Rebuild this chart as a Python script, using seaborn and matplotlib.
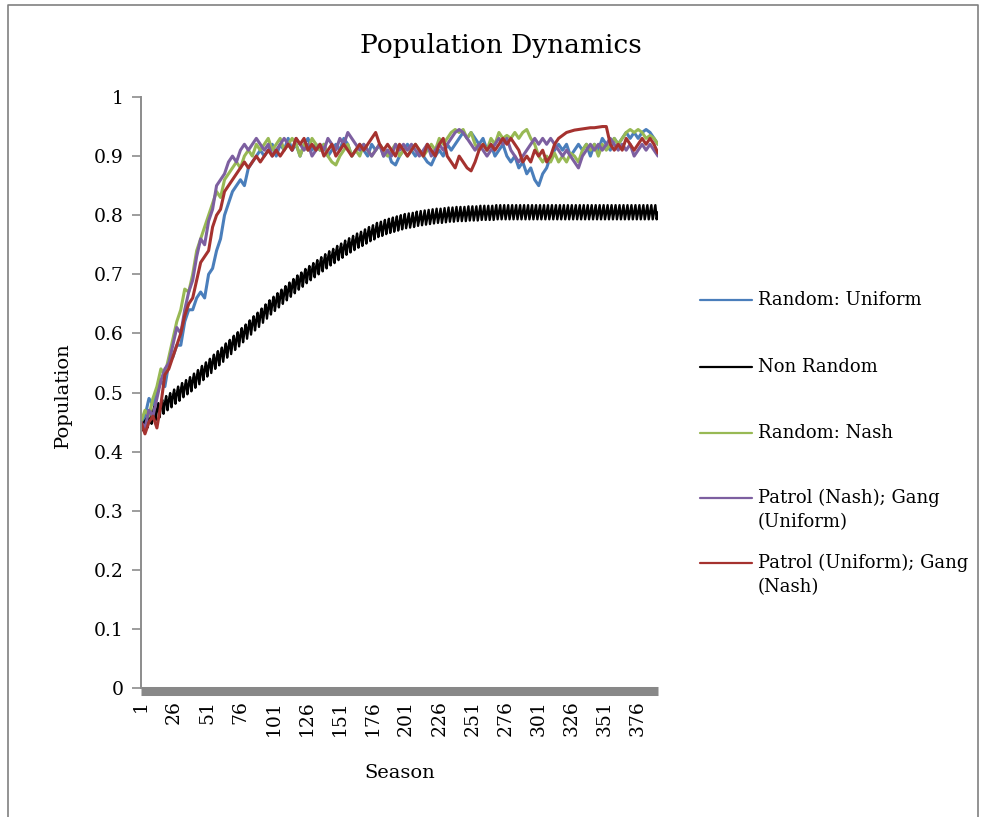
import numpy as np
import pandas as pd
import matplotlib
matplotlib.use("Agg")
import matplotlib.pyplot as plt
import seaborn as sns
from matplotlib.lines import Line2D

# ---------------- data ----------------
series_names = ["Random: Uniform", "Non Random", "Random: Nash",
                "Patrol (Nash); Gang (Uniform)", "Patrol (Uniform); Gang (Nash)"]
legend_lines = [["Random: Uniform"], ["Non Random"], ["Random: Nash"],
                ["Patrol (Nash); Gang", "(Uniform)"],
                ["Patrol (Uniform); Gang", "(Nash)"]]
colors = ["#4A7EBB", "#000000", "#98B954", "#7D5FA0", "#A5322F"]
tick_seasons = [1, 26, 51, 76, 101, 126, 151, 176, 201, 226, 251, 276, 301, 326, 351, 376]
y_ticks = [0, 0.1, 0.2, 0.3, 0.4, 0.5, 0.6, 0.7, 0.8, 0.9, 1]
y_tick_labels = ["0", "0.1", "0.2", "0.3", "0.4", "0.5", "0.6", "0.7", "0.8", "0.9", "1"]

# random series, sampled every 3rd season (1, 4, 7, ...)
random_uniform = [
    0.45, 0.46, 0.49, 0.48, 0.50, 0.52, 0.51, 0.55, 0.56, 0.58,
    0.58, 0.62, 0.64, 0.64, 0.66, 0.67, 0.66, 0.70, 0.71, 0.74,
    0.76, 0.80, 0.82, 0.84, 0.85, 0.86, 0.85, 0.88, 0.89, 0.90,
    0.91, 0.90, 0.91, 0.92, 0.90, 0.92, 0.91, 0.93, 0.91, 0.92,
    0.90, 0.92, 0.93, 0.91, 0.92, 0.91, 0.92, 0.90, 0.91, 0.92,
    0.91, 0.93, 0.92, 0.90, 0.91, 0.92, 0.91, 0.90, 0.92, 0.91,
    0.92, 0.90, 0.91, 0.89, 0.885, 0.90, 0.91, 0.92, 0.91, 0.90,
    0.91, 0.90, 0.89, 0.885, 0.90, 0.91, 0.90, 0.92, 0.91, 0.92,
    0.93, 0.94, 0.93, 0.94, 0.93, 0.92, 0.93, 0.91, 0.92, 0.90,
    0.91, 0.92, 0.90, 0.89, 0.90, 0.88, 0.89, 0.87, 0.88, 0.86,
    0.85, 0.87, 0.88, 0.90, 0.91, 0.92, 0.91, 0.92, 0.90, 0.91,
    0.92, 0.91, 0.92, 0.90, 0.92, 0.91, 0.93, 0.92, 0.91, 0.93,
    0.92, 0.93, 0.94, 0.93, 0.94, 0.93, 0.94, 0.945, 0.94, 0.93,
    0.92]
random_nash = [
    0.45, 0.47, 0.46, 0.49, 0.51, 0.54, 0.53, 0.56, 0.59, 0.62,
    0.64, 0.675, 0.67, 0.70, 0.74, 0.76, 0.78, 0.80, 0.82, 0.84,
    0.83, 0.86, 0.87, 0.88, 0.89, 0.88, 0.90, 0.91, 0.90, 0.92,
    0.91, 0.92, 0.93, 0.91, 0.92, 0.93, 0.91, 0.92, 0.93, 0.92,
    0.90, 0.92, 0.91, 0.93, 0.92, 0.91, 0.92, 0.90, 0.89, 0.885,
    0.90, 0.91, 0.92, 0.90, 0.91, 0.90, 0.92, 0.91, 0.90, 0.91,
    0.92, 0.91, 0.90, 0.91, 0.92, 0.90, 0.91, 0.90, 0.91, 0.92,
    0.91, 0.90, 0.91, 0.92, 0.91, 0.93, 0.92, 0.93, 0.94, 0.945,
    0.94, 0.945, 0.93, 0.94, 0.92, 0.91, 0.92, 0.91, 0.93, 0.92,
    0.94, 0.93, 0.935, 0.93, 0.94, 0.93, 0.94, 0.945, 0.93, 0.92,
    0.90, 0.89, 0.90, 0.89, 0.905, 0.89, 0.90, 0.89, 0.905, 0.90,
    0.89, 0.91, 0.92, 0.91, 0.92, 0.90, 0.92, 0.91, 0.92, 0.93,
    0.92, 0.93, 0.94, 0.945, 0.94, 0.945, 0.94, 0.93, 0.935, 0.93,
    0.92]
patrol_nash_gang_uniform = [
    0.45, 0.44, 0.47, 0.46, 0.49, 0.52, 0.54, 0.55, 0.58, 0.61,
    0.60, 0.64, 0.67, 0.69, 0.73, 0.76, 0.75, 0.79, 0.81, 0.85,
    0.86, 0.87, 0.89, 0.90, 0.89, 0.91, 0.92, 0.91, 0.92, 0.93,
    0.92, 0.91, 0.92, 0.90, 0.91, 0.92, 0.93, 0.92, 0.91, 0.93,
    0.92, 0.91, 0.92, 0.90, 0.91, 0.92, 0.91, 0.93, 0.92, 0.91,
    0.93, 0.92, 0.94, 0.93, 0.92, 0.91, 0.92, 0.91, 0.90, 0.91,
    0.92, 0.90, 0.91, 0.90, 0.92, 0.91, 0.92, 0.91, 0.92, 0.91,
    0.90, 0.91, 0.92, 0.90, 0.91, 0.92, 0.91, 0.92, 0.93, 0.94,
    0.945, 0.94, 0.93, 0.92, 0.91, 0.92, 0.91, 0.90, 0.91, 0.92,
    0.93, 0.92, 0.93, 0.91, 0.90, 0.89, 0.90, 0.91, 0.92, 0.93,
    0.92, 0.93, 0.92, 0.93, 0.92, 0.91, 0.90, 0.91, 0.90, 0.89,
    0.88, 0.90, 0.91, 0.92, 0.91, 0.92, 0.91, 0.92, 0.93, 0.92,
    0.91, 0.92, 0.91, 0.92, 0.90, 0.91, 0.92, 0.91, 0.92, 0.91,
    0.90]
patrol_uniform_gang_nash = [
    0.45, 0.43, 0.45, 0.46, 0.44, 0.48, 0.53, 0.54, 0.56, 0.58,
    0.60, 0.63, 0.65, 0.66, 0.69, 0.72, 0.73, 0.74, 0.78, 0.80,
    0.81, 0.84, 0.85, 0.86, 0.87, 0.88, 0.89, 0.88, 0.89, 0.90,
    0.89, 0.90, 0.91, 0.90, 0.91, 0.90, 0.91, 0.92, 0.91, 0.93,
    0.92, 0.93, 0.91, 0.92, 0.91, 0.92, 0.90, 0.91, 0.92, 0.90,
    0.91, 0.92, 0.91, 0.90, 0.91, 0.92, 0.91, 0.92, 0.93, 0.94,
    0.92, 0.91, 0.92, 0.91, 0.90, 0.92, 0.91, 0.90, 0.91, 0.92,
    0.91, 0.90, 0.92, 0.91, 0.90, 0.92, 0.93, 0.90, 0.89, 0.88,
    0.90, 0.89, 0.88, 0.875, 0.89, 0.91, 0.92, 0.91, 0.92, 0.91,
    0.92, 0.93, 0.92, 0.93, 0.92, 0.91, 0.89, 0.90, 0.89, 0.91,
    0.90, 0.91, 0.89, 0.90, 0.92, 0.93, 0.935, 0.94, 0.942, 0.944,
    0.945, 0.946, 0.947, 0.948, 0.948, 0.949, 0.95, 0.95, 0.92, 0.91,
    0.92, 0.91, 0.93, 0.92, 0.91, 0.92, 0.93, 0.92, 0.93, 0.92,
    0.905]

# deterministic series, one value per season
non_random = [
    .447, .459, .435, .453, .465, .441, .459, .471, .447, .465, .477, .453, .470, .482, .458,
    .476, .488, .464, .482, .494, .470, .487, .499, .475, .493, .505, .481, .498, .510, .486,
    .504, .516, .492, .509, .521, .497, .514, .526, .502, .520, .532, .508, .526, .538, .514,
    .533, .545, .521, .539, .551, .527, .545, .557, .533, .552, .564, .540, .558, .570, .546,
    .564, .576, .552, .571, .583, .559, .577, .589, .565, .584, .596, .572, .590, .602, .578,
    .597, .609, .585, .603, .615, .591, .610, .622, .598, .617, .629, .605, .623, .635, .611,
    .630, .642, .618, .637, .649, .625, .644, .656, .632, .650, .662, .638, .656, .668, .644,
    .662, .674, .650, .668, .680, .656, .674, .686, .662, .680, .692, .668, .686, .698, .674,
    .691, .703, .679, .697, .709, .685, .702, .714, .690, .707, .719, .695, .712, .724, .700,
    .717, .729, .705, .722, .734, .710, .727, .739, .715, .731, .743, .719, .736, .748, .724,
    .740, .752, .728, .745, .757, .733, .749, .761, .737, .753, .765, .741, .757, .769, .745,
    .760, .772, .748, .764, .776, .752, .768, .780, .756, .771, .783, .759, .775, .787, .763,
    .777, .789, .765, .780, .792, .768, .782, .794, .770, .784, .796, .772, .786, .798, .774,
    .788, .800, .776, .790, .802, .778, .791, .803, .779, .792, .804, .780, .794, .806, .782,
    .795, .807, .783, .796, .808, .784, .797, .809, .785, .798, .810, .786, .799, .811, .787,
    .799, .811, .787, .800, .812, .788, .801, .813, .789, .801, .813, .789, .802, .814, .790,
    .802, .814, .790, .802, .814, .790, .803, .815, .791, .803, .815, .791, .803, .815, .791,
    .804, .816, .792, .804, .816, .792, .804, .816, .792, .804, .816, .792, .805, .817, .793,
    .805, .817, .793, .805, .817, .793, .805, .817, .793, .805, .817, .793, .805, .817, .793,
    .805, .817, .793, .805, .817, .793, .805, .817, .793, .805, .817, .793, .805, .817, .793,
    .805, .817, .793, .805, .817, .793, .805, .817, .793, .805, .817, .793, .805, .817, .793,
    .805, .817, .793, .805, .817, .793, .805, .817, .793, .805, .817, .793, .805, .817, .793,
    .805, .817, .793, .805, .817, .793, .805, .817, .793, .805, .817, .793, .805, .817, .793,
    .805, .817, .793, .805, .817, .793, .805, .817, .793, .805, .817, .793, .805, .817, .793,
    .805, .817, .793, .805, .817, .793, .805, .817, .793, .805, .817, .793, .805, .817, .793,
    .805, .817, .793, .805, .817, .793, .805, .817, .793, .805, .817, .793, .805, .817, .793,
    .805]

# ---------------- frames ----------------
random_frames = []
for name, vals in [(series_names[0], random_uniform),
                   (series_names[2], random_nash),
                   (series_names[3], patrol_nash_gang_uniform),
                   (series_names[4], patrol_uniform_gang_nash)]:
    random_frames.append(pd.DataFrame({"Season": 1 + 3 * np.arange(len(vals)),
                                       "Population": vals, "Series": name}))
df_random = pd.concat(random_frames, ignore_index=True)
df_nonrandom = pd.DataFrame({"Season": 1 + np.arange(len(non_random)),
                             "Population": non_random})

# ---------------- plot ----------------
sns.set_theme(style="white")
plt.rcParams["font.family"] = ["DejaVu Serif", "DejaVu Sans"]
plt.rcParams["text.color"] = "black"
plt.rcParams["xtick.color"] = "black"
plt.rcParams["ytick.color"] = "black"

W, H = 981, 817
fig = plt.figure(figsize=(W / 100, H / 100), dpi=100)
ax = fig.add_axes([141 / W, 1 - 688 / H, (658 - 141) / W, (688 - 97) / H])

random_order = [series_names[i] for i in (0, 2, 3, 4)]
random_colors = [colors[i] for i in (0, 2, 3, 4)]
sns.lineplot(data=df_nonrandom, x="Season", y="Population", color=colors[1],
             linewidth=1.7, ax=ax, legend=False)
sns.lineplot(data=df_random, x="Season", y="Population", hue="Series",
             hue_order=random_order, palette=random_colors, estimator=None,
             linewidth=2.2, legend=False, ax=ax)

ax.set_xlim(1, 391)
ax.set_ylim(0, 1)
ax.set_yticks(y_ticks)
ax.set_yticklabels(y_tick_labels)
ax.set_xticks(tick_seasons)
ax.set_xticklabels([str(t) for t in tick_seasons])
ax.set_xlabel("")
ax.set_ylabel("")

for s in ["top", "right"]:
    ax.spines[s].set_visible(False)
ax.spines["left"].set_color("#8c8c8c")
ax.spines["left"].set_linewidth(1.4)
ax.spines["bottom"].set_color("#888888")
ax.spines["bottom"].set_linewidth(6.5)
ax.spines["bottom"].set_capstyle("butt")
ax.spines["bottom"].set_position(("outward", 2.5))
ax.spines["bottom"].set_zorder(0.5)

ax.tick_params(axis="y", direction="out", length=6.5, width=1.2, color="#8c8c8c",
               labelsize=13.5, pad=6, left=True, labelcolor="black")
ax.tick_params(axis="x", length=0, labelsize=13.5, pad=6, labelcolor="black",
               labelrotation=90)
for lbl in ax.get_xticklabels():
    lbl.set_rotation(90)
    lbl.set_verticalalignment("top")
    lbl.set_horizontalalignment("center")

fig.text(501 / W, 1 - 46 / H, "Population Dynamics", ha="center", va="center",
         fontsize=19, color="black")
fig.text(63 / W, 1 - 395 / H, "Population", rotation=90, ha="center", va="center",
         fontsize=14, color="black")
fig.text(400 / W, 1 - 773 / H, "Season", ha="center", va="center", fontsize=14,
         color="black")

legend_y = [300, 367, 433, 498, 563]
for lines, c, y in zip(legend_lines, colors, legend_y):
    fig.add_artist(Line2D([700 / W, 752 / W], [1 - y / H, 1 - y / H], color=c, lw=1.6))
    for j, txt in enumerate(lines):
        fig.text(758 / W, 1 - (y + 24 * j) / H, txt, ha="left", va="center",
                 fontsize=13, color="black")

fig.add_artist(Line2D([8 / W, 8 / W, 978 / W, 978 / W], [0, 1 - 5 / H, 1 - 5 / H, 0],
                      color="#808080", lw=1.2))

fig.savefig("out.png", dpi=100)
